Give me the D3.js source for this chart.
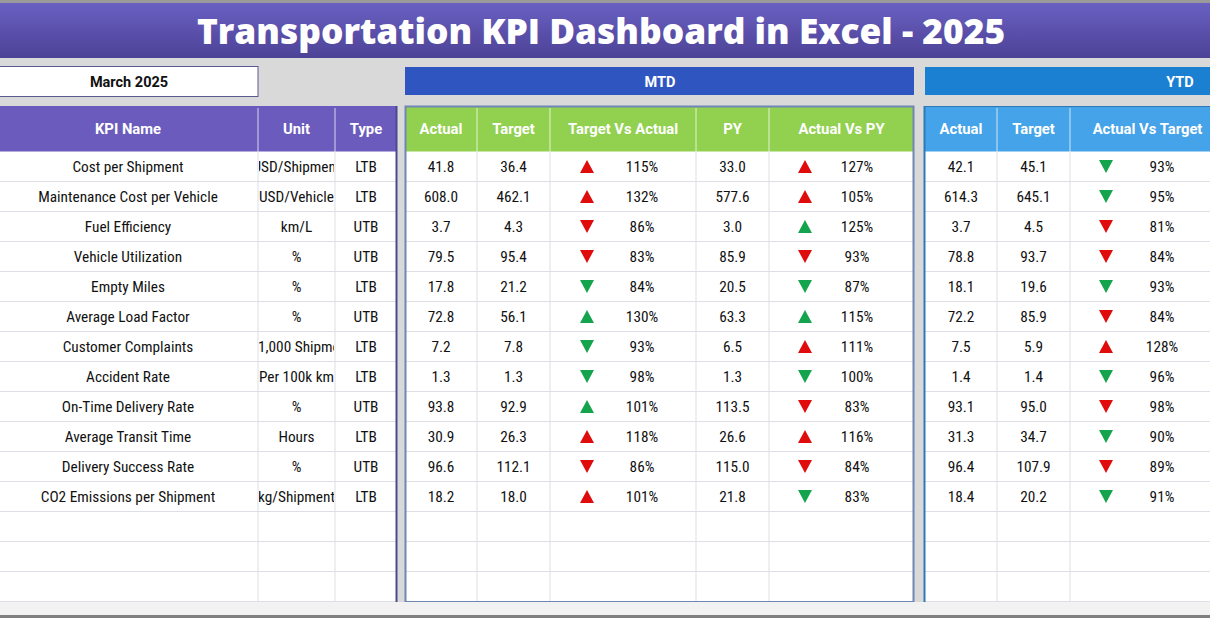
<!DOCTYPE html>
<html><head><meta charset="utf-8">
<script src="https://cdn.jsdelivr.net/npm/d3@7/dist/d3.min.js"></script>
<style>
html,body{margin:0;padding:0;background:#d9d9d9;overflow:hidden;}
svg{display:block;}
</style></head>
<body>
<svg id="c" width="1210" height="618"></svg>
<script>
const title = "Transportation KPI Dashboard in Excel - 2025";
const monthLabel = "March 2025";
const kpiNames = ["Cost per Shipment","Maintenance Cost per Vehicle","Fuel Efficiency","Vehicle Utilization","Empty Miles","Average Load Factor","Customer Complaints","Accident Rate","On-Time Delivery Rate","Average Transit Time","Delivery Success Rate","CO2 Emissions per Shipment"];
const units = ["USD/Shipment","USD/Vehicle","km/L","%","%","%","Per 1,000 Shipments","Per 100k km","%","Hours","%","kg/Shipment"];
const types = ["LTB","LTB","UTB","UTB","LTB","UTB","LTB","LTB","UTB","LTB","UTB","LTB"];
const mtdActual = [41.8,608.0,3.7,79.5,17.8,72.8,7.2,1.3,93.8,30.9,96.6,18.2];
const mtdTarget = [36.4,462.1,4.3,95.4,21.2,56.1,7.8,1.3,92.9,26.3,112.1,18.0];
const mtdTvA = [115,132,86,83,84,130,93,98,101,118,86,101];
const mtdPY = [33.0,577.6,3.0,85.9,20.5,63.3,6.5,1.3,113.5,26.6,115.0,21.8];
const mtdAvPY = [127,105,125,93,87,115,111,100,83,116,84,83];
const ytdActual = [42.1,614.3,3.7,78.8,18.1,72.2,7.5,1.4,93.1,31.3,96.4,18.4];
const ytdTarget = [45.1,645.1,4.5,93.7,19.6,85.9,5.9,1.4,95.0,34.7,107.9,20.2];
const ytdAvT = [93,95,81,84,93,84,128,96,98,90,89,91];
const totalRows = 15;

const svg = d3.select("#c");
const W = 1210, H = 618;
const cellFont = "'Liberation Sans Narrow','Roboto Condensed','Roboto',sans-serif";
const headFont = "'Roboto','Open Sans',sans-serif";
const cellSize = 15.3;

const defs = svg.append("defs");
const g1 = defs.append("linearGradient").attr("id","tg").attr("x1",0).attr("y1",0).attr("x2",0).attr("y2",1);
g1.append("stop").attr("offset","0%").attr("stop-color","#6a60c2");
g1.append("stop").attr("offset","100%").attr("stop-color","#4c4296");

svg.append("rect").attr("x",0).attr("y",0).attr("width",W).attr("height",H).attr("fill","#d9d9d9");
svg.append("rect").attr("x",0).attr("y",0).attr("width",W).attr("height",3).attr("fill","#9a9a9a");
svg.append("rect").attr("x",0).attr("y",3).attr("width",W).attr("height",55).attr("fill","url(#tg)");
svg.append("text").attr("x",601).attr("y",44).attr("text-anchor","middle")
  .attr("font-family","'Open Sans','Lato',sans-serif").attr("font-weight",800).attr("font-size",35.3)
  .attr("fill","#ffffff").text(title);

// month box
svg.append("rect").attr("x",-1).attr("y",66.5).attr("width",259).attr("height",30).attr("fill","#fff").attr("stroke","#5a5a90").attr("stroke-width",1);
svg.append("text").attr("x",129).attr("y",87).attr("text-anchor","middle").attr("font-family",headFont)
  .attr("font-weight",700).attr("font-size",14.5).attr("fill","#111").text(monthLabel);

// section headers
svg.append("rect").attr("x",405).attr("y",67).attr("width",509).attr("height",28).attr("fill","#2f56c0");
svg.append("text").attr("x",660).attr("y",87).attr("text-anchor","middle").attr("font-family",headFont)
  .attr("font-weight",700).attr("font-size",14.5).attr("fill","#fff").text("MTD");
svg.append("rect").attr("x",925).attr("y",67).attr("width",300).attr("height",28).attr("fill","#1b80d2");
svg.append("text").attr("x",1180).attr("y",87).attr("text-anchor","middle").attr("font-family",headFont)
  .attr("font-weight",700).attr("font-size",14.5).attr("fill","#fff").text("YTD");

const y = d3.scaleBand().domain(d3.range(totalRows)).range([151.5, 601.5]);
const headTop = 106, headBot = 151.5;

function arrowPath(up){
  const w = 14, h = 13;
  return up ? `M0,${-h/2}L${w/2},${h/2}L${-w/2},${h/2}Z` : `M0,${h/2}L${w/2},${-h/2}L${-w/2},${-h/2}Z`;
}
function arrowColor(pct, type){
  const up = pct > 100;
  const good = (type === "UTB") ? up : !up;
  return good ? "#14a44d" : "#e00b0b";
}

function panel(opts){
  const {x0, x1, cols, headColor, borderColor} = opts;
  const gp = svg.append("g");
  gp.append("rect").attr("x",x0).attr("y",headTop).attr("width",x1-x0).attr("height",601.5-headTop).attr("fill","#fff");
  gp.append("rect").attr("x",x0).attr("y",headTop).attr("width",x1-x0).attr("height",headBot-headTop).attr("fill",headColor);
  gp.selectAll("line.h").data(d3.range(1,totalRows+1)).join("line")
    .attr("x1",x0).attr("x2",x1).attr("y1",d=>y(d-1)+y.bandwidth()).attr("y2",d=>y(d-1)+y.bandwidth())
    .attr("stroke","#dcdfe6").attr("stroke-width",1);
  const edges = cols.slice(1).map(c=>c.x0);
  gp.selectAll("line.v").data(edges).join("line")
    .attr("x1",d=>d).attr("x2",d=>d).attr("y1",headBot).attr("y2",601.5).attr("stroke","#dcdfe6");
  gp.selectAll("line.vh").data(edges).join("line")
    .attr("x1",d=>d).attr("x2",d=>d).attr("y1",headTop+2).attr("y2",headBot).attr("stroke","#ffffff").attr("stroke-opacity",0.75);
  cols.forEach((c,ci)=>{
    const cid = opts.id + "c" + ci;
    defs.append("clipPath").attr("id",cid).append("rect").attr("x",c.x0+1).attr("y",headTop).attr("width",c.x1-c.x0-2).attr("height",500);
    const cg = gp.append("g").attr("clip-path",`url(#${cid})`);
    cg.append("text").attr("x",(c.x0+c.x1)/2).attr("y",(headTop+headBot)/2+5).attr("text-anchor","middle")
      .attr("font-family",headFont).attr("font-weight",700).attr("font-size",14.8).attr("fill","#fff").text(c.title);
    if (c.pct){
      const data = c.pct.map((p,i)=>({p,i,t:types[i]}));
      cg.selectAll("path.a").data(data).join("path")
        .attr("transform",d=>`translate(${c.ax},${y(d.i)+y.bandwidth()/2})`)
        .attr("d",d=>arrowPath(d.p>100)).attr("fill",d=>arrowColor(d.p,d.t));
      cg.selectAll("text.p").data(data).join("text")
        .attr("x",c.tx).attr("y",d=>y(d.i)+y.bandwidth()/2+5).attr("text-anchor","middle")
        .attr("font-family",cellFont).attr("font-size",cellSize).attr("fill","#111").text(d=>d.p+"%");
    } else {
      cg.selectAll("text.v").data(c.values).join("text")
        .attr("x",(c.x0+c.x1)/2).attr("y",(d,i)=>y(i)+y.bandwidth()/2+5).attr("text-anchor","middle")
        .attr("font-family",cellFont).attr("font-size",cellSize).attr("fill","#111")
        .text(d=>c.fmt?c.fmt(d):d);
    }
  });
  if (borderColor){
    gp.append("rect").attr("x",x0+0.5).attr("y",headTop+0.5).attr("width",x1-x0-1).attr("height",601.5-headTop).attr("fill","none").attr("stroke",borderColor).attr("stroke-width",2);
  }
  return gp;
}
const f1 = d3.format(".1f");

const lp = panel({id:"L", x0:-2, x1:397, headColor:"#6a5bbd", cols:[
  {x0:-2,x1:258,title:"KPI Name",values:kpiNames},
  {x0:258,x1:335,title:"Unit",values:units},
  {x0:335,x1:397,title:"Type",values:types}
]});
lp.append("line").attr("x1",396.5).attr("x2",396.5).attr("y1",headTop).attr("y2",602).attr("stroke","#4b4a8e").attr("stroke-width",2);

panel({id:"M", x0:405, x1:914, headColor:"#92d050", borderColor:"#6f86b6", cols:[
  {x0:405,x1:477,title:"Actual",values:mtdActual,fmt:f1},
  {x0:477,x1:550,title:"Target",values:mtdTarget,fmt:f1},
  {x0:550,x1:696,title:"Target Vs Actual",pct:mtdTvA,ax:587,tx:642},
  {x0:696,x1:769,title:"PY",values:mtdPY,fmt:f1},
  {x0:769,x1:914,title:"Actual Vs PY",pct:mtdAvPY,ax:805,tx:857}
]});

const yp = panel({id:"Y", x0:925, x1:1225, headColor:"#45a3e9", cols:[
  {x0:925,x1:997,title:"Actual",values:ytdActual,fmt:f1},
  {x0:997,x1:1070,title:"Target",values:ytdTarget,fmt:f1},
  {x0:1070,x1:1225,title:"Actual Vs Target",pct:ytdAvT,ax:1106,tx:1162}
]});
yp.append("line").attr("x1",924.5).attr("x2",924.5).attr("y1",headTop).attr("y2",602).attr("stroke","#2f78b8").attr("stroke-width",2);
yp.append("line").attr("x1",925).attr("x2",1210).attr("y1",headTop+0.5).attr("y2",headTop+0.5).attr("stroke","#2f78b8").attr("stroke-width",1);

svg.append("rect").attr("x",0).attr("y",602).attr("width",W).attr("height",13).attr("fill","#f2f2f2");
svg.append("rect").attr("x",0).attr("y",615).attr("width",W).attr("height",3).attr("fill","#7f7f7f");
</script>
</body></html>
